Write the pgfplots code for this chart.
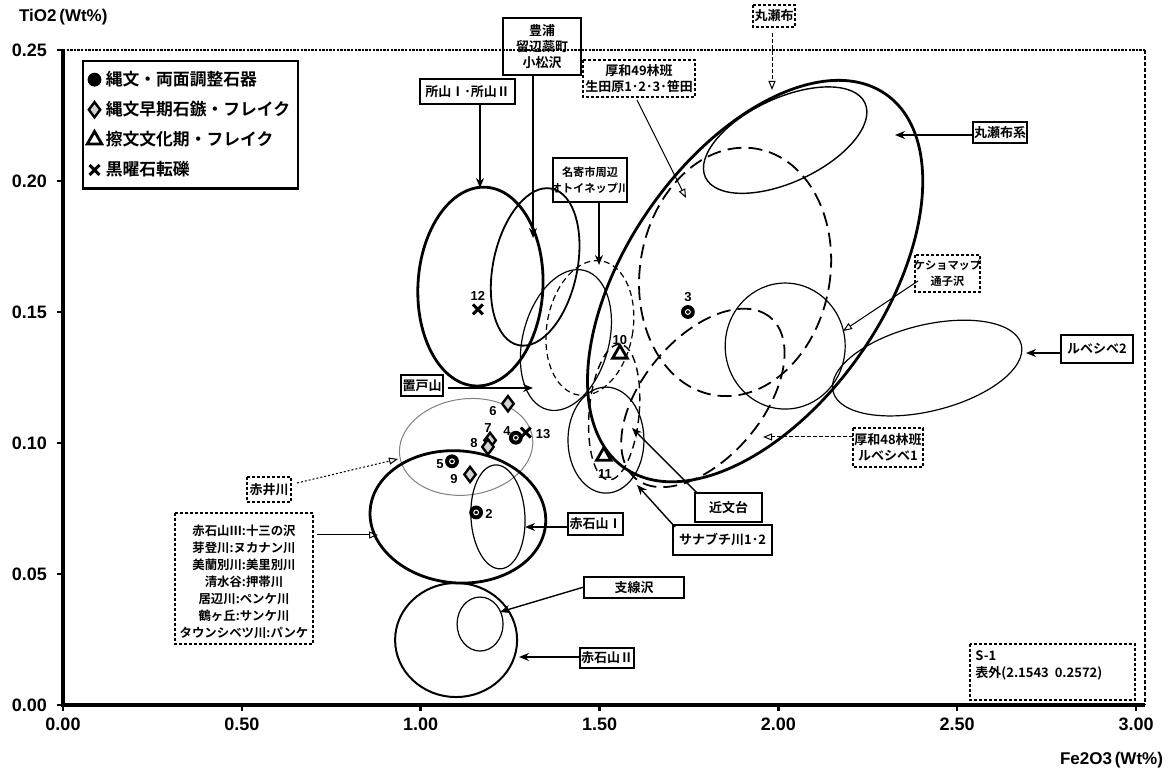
\documentclass[border=0pt]{standalone}
\usepackage{fontspec}
\usepackage{pgfplots}
\pgfplotsset{compat=1.18}
\usetikzlibrary{arrows.meta,shapes.geometric}
\setmainfont{Liberation Sans}
\newfontfamily\jp{Noto Sans CJK JP}[BoldFont={Noto Sans CJK JP Bold}]

% numbered samples, one table per group
\pgfplotstableread{
x y
1.155 0.0735
1.747 0.150
1.266 0.102
1.0875 0.093
}\jomon
\pgfplotstableread{
x y
1.244 0.115
1.194 0.101
1.188 0.0985
1.138 0.088
}\early
\pgfplotstableread{
x y
1.557 0.134
1.512 0.095
}\satsu
\pgfplotstableread{
x y
1.160 0.151
1.294 0.104
}\gravel

\tikzset{
  ell/.style={draw, ellipse, inner sep=0pt, outer sep=0pt},
  thk/.style={line width=1.4pt},
  med/.style={line width=0.9pt},
  thn/.style={line width=0.6pt},
  lds/.style={line width=0.9pt, dash pattern=on 7pt off 3.5pt},
  sds/.style={line width=0.6pt, dash pattern=on 3pt off 2pt},
  num/.style={font=\bfseries\fontsize{6.5}{7}\selectfont, inner sep=0pt},
  ann/.style={font=\jp\bfseries\fontsize{6.5}{8.2}\selectfont, align=center, inner sep=0pt},
  sml/.style={font=\jp\bfseries\fontsize{5.6}{8.2}\selectfont},
  bs/.style={draw, line width=0.7pt},
  ds/.style={draw, line width=0.6pt, dash pattern=on 1.5pt off 1pt},
  ar/.style={line width=0.7pt, -{Stealth[length=5pt,width=4pt]}},
  oar/.style={line width=0.5pt, -{Triangle[open,length=4.5pt,width=3.5pt]}},
}

\begin{document}
\begin{tikzpicture}
\begin{axis}[
  scale only axis, width=541pt, height=327.5pt,
  xmin=0, xmax=3.025, ymin=0, ymax=0.25,
  xtick={0,0.5,1,1.5,2,2.5,3}, ytick={0,0.05,0.1,0.15,0.2,0.25},
  xticklabel={\pgfmathprintnumber[fixed,fixed zerofill,precision=2]{\tick}},
  yticklabel={\pgfmathprintnumber[fixed,fixed zerofill,precision=2]{\tick}},
  /pgf/number format/assume math mode=true,
  ticklabel style={font=\bfseries\fontsize{9}{10}\selectfont},
  yticklabel style={xshift=-1.5pt},
  tick pos=left, tick align=outside, major tick length=3pt,
  tick style={black, line width=1.2pt},
  axis line style={draw=none},
  clip=false,
  legend style={at={(0.0176,0.985)}, anchor=north west, draw=black, line width=1.2pt,
    font=\jp\bfseries\fontsize{8.4}{10}\selectfont, row sep=2.4pt,
    inner xsep=2pt, inner ysep=3pt, cells={anchor=west}},
  legend cell align=left,
]
\coordinate (O) at (rel axis cs:0,0);
% frame
\draw[line width=1.1pt, dash pattern=on 1.2pt off 0.6pt] (rel axis cs:0,1) -- (rel axis cs:1,1);
\draw[line width=0.6pt, dash pattern=on 2pt off 1pt] (rel axis cs:1,1) -- (rel axis cs:1,0);
\draw[line width=2pt] (rel axis cs:0,1) -- (rel axis cs:0,0) -- (rel axis cs:1,0);

% source regions
\node[ell,thk,minimum width=62.5pt,minimum height=99.5pt,rotate=-3] at (axis cs:1.167,0.1597) {};
\node[ell,med,minimum width=42pt,minimum height=80pt,rotate=-12] at (axis cs:1.320,0.1672) {};
\node[ell,sds,minimum width=43pt,minimum height=68pt,rotate=-10] at (axis cs:1.473,0.1439) {};
\node[ell,thn,minimum width=43pt,minimum height=72pt,rotate=-15] at (axis cs:1.406,0.1393) {};
\node[ell,line width=0.5pt,draw=gray,minimum width=67pt,minimum height=48pt,rotate=8] at (axis cs:1.127,0.0985) {};
\node[ell,thk,minimum width=88pt,minimum height=66pt,rotate=-5] at (axis cs:1.104,0.0718) {};
\node[ell,thn,minimum width=27pt,minimum height=52pt,rotate=3] at (axis cs:1.216,0.0718) {};
\node[ell,line width=1pt,minimum width=61pt,minimum height=57pt] at (axis cs:1.099,0.0248) {};
\node[ell,thn,minimum width=23pt,minimum height=27pt] at (axis cs:1.166,0.0309) {};
\node[ell,line width=0.7pt,dash pattern=on 4pt off 2.5pt,minimum width=25pt,minimum height=68pt,rotate=-5] at (axis cs:1.541,0.1118) {};
\node[ell,thn,minimum width=38pt,minimum height=53pt] at (axis cs:1.518,0.1011) {};
\node[ell,thk,minimum width=228pt,minimum height=128pt,rotate=55] at (axis cs:1.935,0.1618) {};
\node[ell,line width=0.7pt,minimum width=88pt,minimum height=42pt,rotate=25] at (axis cs:2.019,0.2156) {};
\node[ell,lds,minimum width=95pt,minimum height=125pt,rotate=-10] at (axis cs:1.879,0.1653) {};
\node[ell,lds,minimum width=105pt,minimum height=60pt,rotate=50] at (axis cs:1.789,0.1172) {};
\node[ell,thn,minimum width=60pt,minimum height=63pt] at (axis cs:2.019,0.1370) {};
\node[ell,thn,minimum width=97pt,minimum height=43pt,rotate=14] at (axis cs:2.416,0.1286) {};

% samples
\addplot[only marks, mark=*, mark size=3.2pt, mark options={fill=black, draw=black, line width=0.5pt}] table {\jomon};
\addlegendentry{縄文・両面調整石器}
\addplot[only marks, mark=diamond*, mark size=3.8pt, mark options={fill=gray!35, draw=black, line width=1.2pt}] table {\early};
\addlegendentry{縄文早期石鏃・フレイク}
\addplot[only marks, mark=triangle, mark size=4.2pt, mark options={draw=black, line width=1.4pt}] table {\satsu};
\addlegendentry{擦文文化期・フレイク}
\addplot[only marks, mark=x, mark size=3.5pt, mark options={draw=black, line width=1.5pt}] table {\gravel};
\addlegendentry{黒曜石転礫}
\addplot[forget plot, only marks, mark=o, mark size=1.2pt, mark options={draw=white, line width=0.5pt}] table {\jomon};

% sample numbers
\node[num] at (axis cs:1.160,0.1561) {12};
\node[num] at (axis cs:1.747,0.1557) {3};
\node[num] at (axis cs:1.557,0.1393) {10};
\node[num] at (axis cs:1.515,0.0882) {11};
\node[num] at (axis cs:1.202,0.1122) {6};
\node[num] at (axis cs:1.188,0.1057) {7};
\node[num] at (axis cs:1.149,0.1000) {8};
\node[num] at (axis cs:1.241,0.1046) {4};
\node[num] at (axis cs:1.342,0.1034) {13};
\node[num] at (axis cs:1.054,0.0920) {5};
\node[num] at (axis cs:1.093,0.0863) {9};
\node[num] at (axis cs:1.191,0.0729) {2};
\end{axis}

% annotations, in pixel units of the reference
\begin{scope}[shift={(O)}, x=0.5pt, y=-0.5pt, shift={(-63,-705)}]
\path (0,0) rectangle (1176,775);
\node[anchor=west, font=\bfseries\fontsize{8.5}{10}\selectfont] at (12,17) {TiO2\,(Wt\%)};
\node[anchor=east, font=\bfseries\fontsize{8.5}{10}\selectfont] at (1170,760) {Fe2O3\,(Wt\%)};

\draw[bs] (420,79) rectangle (515,104); \node[ann] at (467.5,91.5) {所山Ⅰ･所山Ⅱ};
\draw[ar] (480,104) -- (480,188);

\draw[bs] (503,18) rectangle (581,75); \node[ann] at (542,46.5) {豊浦\\留辺蘂町\\小松沢};
\draw[ar] (533,75) -- (533,238);

\draw[ds] (583,60) rectangle (695,97); \node[ann] at (639,78.5) {厚和49林班\\生田原1･2･3･笹田};
\draw[oar] (637,100) -- (686,198);

\draw[ds] (753,5) rectangle (795,27); \node[ann] at (774,16) {丸瀬布};
\draw[oar, dash pattern=on 2pt off 1pt] (772,33) -- (772,90);

\draw[bs] (973,122) rectangle (1027,143); \node[ann] at (1000,132.5) {丸瀬布系};
\draw[ar] (973,135) -- (895,135);

\draw[bs] (553,158) rectangle (627,202); \node[ann, sml] at (590,180) {名寄市周辺\\オトイネップ川};
\draw[ar] (599,202) -- (599,265);

\draw[ds] (915,255) rectangle (980,292); \node[ann, sml] at (947.5,273.5) {ケショマップ\\通子沢};
\draw[oar] (918,281) -- (843,331);

\draw[bs] (1061,335) rectangle (1133,363); \node[ann] at (1097,349) {ルベシベ2};
\draw[ar] (1061,353) -- (1026,353);

\draw[ds] (853,428) rectangle (923,467); \node[ann] at (888,447.5) {厚和48林班\\ルベシベ1};
\draw[oar, dash pattern=on 2pt off 1pt] (853,437) -- (763,437);

\draw[bs] (401,375) rectangle (443,396); \node[ann] at (422,385.5) {置戸山};
\draw[ar] (448,388) -- (533,388);

\draw[ds] (247,477) rectangle (291,502); \node[ann] at (269,489.5) {赤井川};
\draw[oar, dash pattern=on 1pt off 1pt] (297,483) -- (398,459);

\draw[ds] (175,513) rectangle (313,644);
\node[ann, font=\jp\bfseries\fontsize{6.2}{8.5}\selectfont] at (244,582) {赤石山Ⅲ:十三の沢\\芽登川:ヌカナン川\\美蘭別川:美里別川\\清水谷:押帯川\\居辺川:ペンケ川\\鶴ヶ丘:サンケ川\\タウンシベツ川:パンケ};
\draw[oar] (317,535) -- (378,535);

\draw[bs] (568,513) rectangle (623,535); \node[ann] at (595.5,524) {赤石山Ⅰ};
\draw[ar] (568,527) -- (525,527);

\draw[bs] (695,493) rectangle (762,522); \node[ann] at (728.5,507.5) {近文台};
\draw[ar] (697,493) -- (632,428);

\draw[bs] (673,525) rectangle (772,555); \node[ann] at (722.5,540) {サナブチ川1･2};
\draw[ar] (675,527) -- (637,485);

\draw[bs] (584,577) rectangle (684,598); \node[ann] at (634,587.5) {支線沢};
\draw[ar] (584,587) -- (500,612);

\draw[bs] (580,648) rectangle (634,668); \node[ann] at (607,658) {赤石山Ⅱ};
\draw[ar] (580,657) -- (519,657);

\draw[ds] (970,644) rectangle (1135,700);
\node[ann, anchor=west] at (975,656) {S-1};
\node[ann, anchor=west] at (975,673) {表外(2.1543\ \ 0.2572)};
\end{scope}
\end{tikzpicture}
\end{document}
